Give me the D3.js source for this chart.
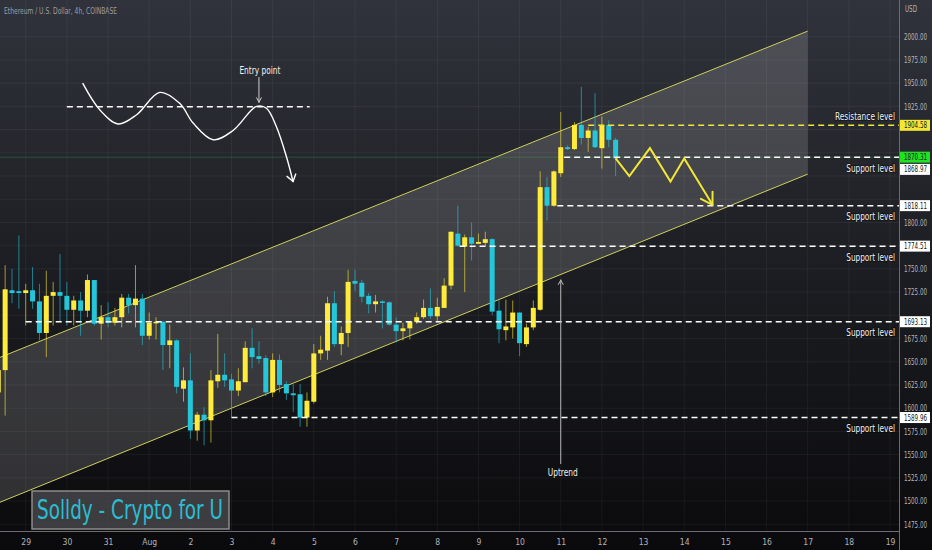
<!DOCTYPE html>
<html>
<head>
<meta charset="utf-8">
<script src="https://cdn.jsdelivr.net/npm/d3@7/dist/d3.min.js"></script>
<style>
  html, body { margin: 0; padding: 0; background: #131417; }
  svg { display: block; }
  text { font-family: "Liberation Sans Narrow", "DejaVu Sans Condensed", "Roboto", sans-serif; font-stretch: condensed; }
</style>
</head>
<body>
<svg id="chart" width="932" height="550"></svg>
<script>
// ETH / USD, 4h candles, first one opens Jul 28 2022 08:00 UTC
const HOUR = 3600 * 1000;
const firstCandle = Date.UTC(2022, 6, 28, 8);
const day0 = Date.UTC(2022, 6, 29);

const opens = [1617, 1641, 1727, 1726, 1724, 1727, 1715, 1681, 1721, 1725, 1721, 1706, 1716, 1705, 1738, 1691,
  1698, 1692, 1698, 1719, 1711, 1718, 1678, 1692, 1693, 1668, 1673, 1621, 1630, 1576, 1593, 1587, 1629, 1636,
  1631, 1619, 1628, 1665, 1656, 1654, 1617, 1652, 1626, 1616, 1615, 1590, 1607, 1659, 1662, 1713, 1669, 1681,
  1737, 1735, 1721, 1712, 1715, 1714, 1690, 1683, 1686, 1693, 1698, 1708, 1699, 1708, 1732, 1788, 1774, 1784,
  1777, 1778, 1782, 1705, 1684, 1687, 1703, 1669, 1687, 1706, 1838, 1818, 1853, 1881, 1879, 1905, 1891, 1899,
  1880, 1905, 1889];
const highs = [1648, 1754, 1750, 1786, 1734, 1752, 1734, 1748, 1736, 1766, 1736, 1721, 1725, 1744, 1738, 1711,
  1714, 1708, 1723, 1723, 1754, 1723, 1703, 1698, 1694, 1690, 1674, 1644, 1659, 1596, 1601, 1641, 1680, 1659,
  1637, 1643, 1672, 1686, 1672, 1657, 1659, 1658, 1629, 1626, 1626, 1617, 1669, 1678, 1720, 1726, 1688, 1749,
  1749, 1738, 1724, 1722, 1716, 1715, 1698, 1692, 1694, 1703, 1717, 1729, 1719, 1740, 1790, 1818, 1787, 1800,
  1788, 1790, 1783, 1716, 1717, 1716, 1703, 1691, 1716, 1855, 1849, 1856, 1919, 1883, 1908, 1946, 1903, 1939,
  1914, 1910, 1891];
const lows = [1600, 1592, 1713, 1707, 1689, 1707, 1673, 1655, 1689, 1693, 1689, 1689, 1678, 1698, 1689, 1674,
  1687, 1689, 1687, 1702, 1687, 1668, 1674, 1674, 1641, 1643, 1616, 1607, 1567, 1565, 1560, 1563, 1622, 1623,
  1590, 1613, 1628, 1643, 1648, 1613, 1612, 1617, 1609, 1596, 1580, 1580, 1605, 1652, 1652, 1666, 1657, 1666,
  1726, 1714, 1702, 1703, 1686, 1689, 1671, 1673, 1674, 1691, 1696, 1696, 1694, 1708, 1728, 1774, 1725, 1759,
  1777, 1775, 1700, 1670, 1673, 1675, 1656, 1666, 1684, 1705, 1802, 1817, 1849, 1878, 1878, 1884, 1876, 1880,
  1858, 1881, 1850];
const closes = [1641, 1728, 1724, 1724, 1727, 1715, 1681, 1721, 1725, 1721, 1706, 1716, 1705, 1738, 1691, 1698,
  1692, 1698, 1719, 1711, 1718, 1678, 1692, 1693, 1668, 1673, 1623, 1630, 1576, 1593, 1587, 1630, 1636, 1630,
  1619, 1629, 1665, 1655, 1653, 1617, 1652, 1625, 1616, 1614, 1590, 1608, 1659, 1663, 1713, 1669, 1681, 1736,
  1734, 1720, 1712, 1715, 1714, 1690, 1683, 1686, 1693, 1698, 1708, 1699, 1709, 1732, 1790, 1775, 1784, 1777,
  1779, 1782, 1704, 1685, 1688, 1703, 1670, 1687, 1708, 1838, 1818, 1855, 1881, 1879, 1905, 1891, 1899, 1881,
  1905, 1889, 1868.97];

const priceTicks = d3.range(1475, 2001, 25);

// drawn levels
const levelPrices = [1904.58, 1870.31, 1818.11, 1774.51, 1693.13, 1589.96];
const levelStarts = ["2022-08-11T16:00Z", "2022-08-11T02:00Z", "2022-08-10T22:00Z", "2022-08-08T13:00Z",
  "2022-07-29T00:00Z", "2022-08-03T00:00Z"];
const levelNames = ["Resistance level", "Support level", "Support level", "Support level", "Support level", "Support level"];
const lastPrice = 1868.97;

// channel: [time, upper, lower]
const channelTimes = ["2022-07-28T00:00Z", "2022-08-17T00:00Z"];
const channelUpper = [1648, 2006];
const channelLower = [1492, 1852];

// projected path after the last candle
const zigzagTimes = ["2022-08-12T08:00Z", "2022-08-12T16:00Z", "2022-08-13T04:00Z", "2022-08-13T16:00Z",
  "2022-08-14T00:00Z", "2022-08-14T16:30Z"];
const zigzagPrices = [1868.97, 1850, 1880, 1844, 1869, 1819];

// "Entry point" sketch, hours after Jul 29 00:00
const sketchHours = [33.2, 43.3, 53.9, 64.7, 78.2, 89.9, 97.6, 109.3, 120.9, 134.6, 140.4, 146.2, 152, 155.9];
const sketchPrices = [1950, 1921, 1906, 1916, 1940, 1928, 1907, 1889, 1899, 1925, 1923, 1903, 1871, 1844];
const entryLine = { from: 24, to: 165.6, price: 1924.5 };
const entryArrow = { hour: 136, top: 1956.5, bottom: 1929.5 };

const uptrend = { time: "2022-08-11T00:00Z", top: 1738, bottom: 1540 };

const W = 932, H = 550, plotW = 899, plotH = 531;
const upColor = "#ffeb3b", downColor = "#26c6da";
const fmt = d3.format(".2f");

const x = d3.scaleUtc()
  .domain([new Date(Date.UTC(2022, 6, 28, 9)), new Date(Date.UTC(2022, 7, 19, 5, 15))])
  .range([0, plotW]);
const y = d3.scaleLinear().domain([1475, 2000]).range([524.3, 36.7]);

const candles = opens.map((o, i) => ({
  t: new Date(firstCandle + i * 4 * HOUR), o, h: highs[i], l: lows[i], c: closes[i]
}));

const svg = d3.select("#chart");
const defs = svg.append("defs");
const grad = defs.append("linearGradient").attr("id", "bg").attr("x1", 0).attr("y1", 0).attr("x2", 0).attr("y2", 1);
grad.append("stop").attr("offset", "0%").attr("stop-color", "#30333b");
grad.append("stop").attr("offset", "50%").attr("stop-color", "#1c1d22");
grad.append("stop").attr("offset", "100%").attr("stop-color", "#0a0a0c");
defs.append("clipPath").attr("id", "plot").append("rect").attr("width", plotW).attr("height", plotH);

svg.append("rect").attr("width", W).attr("height", H).attr("fill", "url(#bg)");

const plot = svg.append("g").attr("clip-path", "url(#plot)");

// grid
const days = d3.utcDay.range(new Date(day0), new Date(Date.UTC(2022, 7, 20)));
plot.append("g").selectAll("line").data(days).join("line")
  .attr("x1", d => x(d)).attr("x2", d => x(d)).attr("y1", 0).attr("y2", plotH)
  .attr("stroke", "rgba(255,255,255,0.05)");
plot.append("g").selectAll("line").data(priceTicks).join("line")
  .attr("x1", 0).attr("x2", plotW).attr("y1", d => y(d)).attr("y2", d => y(d))
  .attr("stroke", "rgba(255,255,255,0.05)");

// channel
const ct = channelTimes.map(d => new Date(d));
plot.append("path")
  .attr("d", d3.area().x((d, i) => x(ct[i])).y0((d, i) => y(channelLower[i])).y1(d => y(d))(channelUpper))
  .attr("fill", "rgba(255,255,255,0.15)");
[channelUpper, channelLower].forEach(line => {
  plot.append("path")
    .attr("d", d3.line().x((d, i) => x(ct[i])).y(d => y(d))(line))
    .attr("fill", "none").attr("stroke", "#cfcf5c").attr("stroke-width", 1);
});

// faint last-price line
plot.append("line").attr("x1", 0).attr("x2", plotW)
  .attr("y1", y(levelPrices[1])).attr("y2", y(levelPrices[1]))
  .attr("stroke", "rgba(60,220,80,0.25)");

// candles
const cg = plot.append("g");
cg.selectAll("line").data(candles).join("line")
  .attr("x1", d => x(d.t)).attr("x2", d => x(d.t))
  .attr("y1", d => y(d.h)).attr("y2", d => y(d.l))
  .attr("stroke", d => d.c >= d.o ? upColor : downColor)
  .attr("stroke-opacity", 0.6);
cg.selectAll("rect").data(candles).join("rect")
  .attr("x", d => x(d.t) - 2.5).attr("width", 5)
  .attr("y", d => y(Math.max(d.o, d.c)))
  .attr("height", d => Math.max(1.5, Math.abs(y(d.o) - y(d.c))))
  .attr("fill", d => d.c >= d.o ? upColor : downColor);

// levels
const levels = levelPrices.map((p, i) => ({ p, start: new Date(levelStarts[i]), name: levelNames[i], i }));
plot.append("g").selectAll("line").data(levels).join("line")
  .attr("x1", d => x(d.start)).attr("x2", plotW)
  .attr("y1", d => y(d.p)).attr("y2", d => y(d.p))
  .attr("stroke", d => d.i === 0 ? "#f2e636" : "#ffffff")
  .attr("stroke-width", 1.5).attr("stroke-dasharray", "6,4");
plot.append("g").selectAll("text").data(levels).join("text")
  .attr("x", plotW - 4)
  .attr("y", d => y(d.p) + (d.i === 0 ? -5.5 : 14.5))
  .attr("text-anchor", "end").attr("fill", "#f0f0f0").attr("font-size", 11)
  .attr("textLength", d => d.name.length * 3.75).attr("lengthAdjust", "spacingAndGlyphs")
  .style("paint-order", "stroke").attr("stroke", "rgba(0,0,0,0.4)").attr("stroke-width", 2)
  .text(d => d.name);

// zigzag projection
const zz = zigzagTimes.map((t, i) => [x(new Date(t)), y(zigzagPrices[i])]);
plot.append("path").attr("d", d3.line()(zz))
  .attr("fill", "none").attr("stroke", "#f2e636").attr("stroke-width", 2).attr("stroke-linejoin", "miter");

function arrowHead(g, tip, prev, len, spread, color, width) {
  const ang = Math.atan2(prev[1] - tip[1], prev[0] - tip[0]);
  [-spread, spread].forEach(s => {
    g.append("line")
      .attr("x1", tip[0]).attr("y1", tip[1])
      .attr("x2", tip[0] + len * Math.cos(ang + s)).attr("y2", tip[1] + len * Math.sin(ang + s))
      .attr("stroke", color).attr("stroke-width", width).attr("stroke-linecap", "round");
  });
}
arrowHead(plot, zz[zz.length - 1], zz[zz.length - 2], 13, 0.55, "#f2e636", 2);

// entry point sketch
const sk = sketchHours.map((h, i) => [x(new Date(day0 + h * HOUR)), y(sketchPrices[i])]);
plot.append("path").attr("d", d3.line().curve(d3.curveCatmullRom)(sk))
  .attr("fill", "none").attr("stroke", "#ffffff").attr("stroke-width", 1.4);
arrowHead(plot, sk[sk.length - 1], sk[sk.length - 2], 8, 0.6, "#ffffff", 1.4);

plot.append("line")
  .attr("x1", x(new Date(day0 + entryLine.from * HOUR))).attr("x2", x(new Date(day0 + entryLine.to * HOUR)))
  .attr("y1", y(entryLine.price)).attr("y2", y(entryLine.price))
  .attr("stroke", "#ffffff").attr("stroke-width", 1.5).attr("stroke-dasharray", "6,4");

const ex = x(new Date(day0 + entryArrow.hour * HOUR));
plot.append("line").attr("x1", ex).attr("x2", ex)
  .attr("y1", y(entryArrow.top)).attr("y2", y(entryArrow.bottom))
  .attr("stroke", "#cfcfcf").attr("stroke-width", 1);
arrowHead(plot, [ex, y(entryArrow.bottom)], [ex, y(entryArrow.top)], 5, 0.5, "#cfcfcf", 1);
plot.append("text").attr("x", ex + 1).attr("y", y(entryArrow.top) - 3)
  .attr("text-anchor", "middle").attr("fill", "#f0f0f0").attr("font-size", 11)
  .attr("textLength", 41).attr("lengthAdjust", "spacingAndGlyphs")
  .text("Entry point");

// uptrend marker
const ux = x(new Date(uptrend.time));
plot.append("line").attr("x1", ux).attr("x2", ux)
  .attr("y1", y(uptrend.top)).attr("y2", y(uptrend.bottom))
  .attr("stroke", "#b8b8b8").attr("stroke-width", 1);
arrowHead(plot, [ux, y(uptrend.top)], [ux, y(uptrend.bottom)], 5, 0.5, "#b8b8b8", 1);
plot.append("text").attr("x", ux + 2).attr("y", y(uptrend.bottom) + 12)
  .attr("text-anchor", "middle").attr("fill", "#f0f0f0").attr("font-size", 11)
  .attr("textLength", 30).attr("lengthAdjust", "spacingAndGlyphs")
  .text("Uptrend");

// axes
svg.append("line").attr("x1", plotW + 0.5).attr("x2", plotW + 0.5).attr("y1", 0).attr("y2", H)
  .attr("stroke", "#6a6c72");
svg.append("line").attr("x1", 0).attr("x2", plotW).attr("y1", plotH + 0.5).attr("y2", plotH + 0.5)
  .attr("stroke", "#6a6c72");

// price tags on the axis
const tags = [
  { p: levelPrices[0], fill: "#f2e636", dy: 0 },
  { p: levelPrices[1], fill: "#22e022", dy: 0 },
  { p: lastPrice, fill: "#ffffff", dy: 11 },
  { p: levelPrices[2], fill: "#ffffff", dy: 0 },
  { p: levelPrices[3], fill: "#ffffff", dy: 0 },
  { p: levelPrices[4], fill: "#ffffff", dy: 0 },
  { p: levelPrices[5], fill: "#ffffff", dy: 0 }
];
const tagY = tags.map(d => y(d.p) + d.dy);

// tick labels hidden where a tag covers them
const visibleTicks = priceTicks.filter(v => tagY.every(t => Math.abs(t - y(v)) > 8));
const yAxis = svg.append("g").attr("transform", `translate(${plotW},0)`)
  .call(d3.axisRight(y).tickValues(visibleTicks).tickFormat(fmt).tickSize(0));
yAxis.select(".domain").remove();
yAxis.selectAll("text").attr("fill", "#b2b4ba").attr("font-size", 8.5)
  .attr("x", 28).attr("text-anchor", "end")
  .attr("textLength", 23).attr("lengthAdjust", "spacingAndGlyphs")
  .style("font-family", "'Liberation Sans Narrow', 'DejaVu Sans Condensed', sans-serif");

const xAxis = svg.append("g").attr("transform", `translate(0,${plotH})`)
  .call(d3.axisBottom(x).tickValues(days.filter(d => x(d) < plotW - 4))
    .tickFormat(d => d.getUTCDate() === 1 ? d3.utcFormat("%b")(d) : d.getUTCDate())
    .tickSize(0).tickPadding(8));
xAxis.select(".domain").remove();
xAxis.selectAll("text").attr("fill", "#b2b4ba").attr("font-size", 8.5)
  .style("font-family", "'Liberation Sans Narrow', 'DejaVu Sans Condensed', sans-serif");

svg.append("text").attr("x", plotW + 6).attr("y", 12).attr("fill", "#b2b4ba").attr("font-size", 8.5)
  .attr("textLength", 12).attr("lengthAdjust", "spacingAndGlyphs").text("USD");
svg.append("text").attr("x", 4).attr("y", 14).attr("fill", "#9a9ca3").attr("font-size", 9)
  .attr("textLength", 113).attr("lengthAdjust", "spacingAndGlyphs")
  .text("Ethereum / U.S. Dollar, 4h, COINBASE");

const tg = svg.append("g").selectAll("g").data(tags).join("g")
  .attr("transform", (d, i) => `translate(${plotW + 1},${tagY[i]})`);
tg.append("rect").attr("x", 0).attr("y", -5.5).attr("width", 30).attr("height", 11).attr("fill", d => d.fill);
tg.append("text").attr("x", 27).attr("y", 3).attr("text-anchor", "end")
  .attr("fill", "#131722").attr("font-size", 8.5)
  .attr("textLength", 23).attr("lengthAdjust", "spacingAndGlyphs")
  .text(d => fmt(d.p));

// watermark
const wm = svg.append("g").attr("transform", "translate(32,491)");
wm.append("rect").attr("width", 197).attr("height", 38)
  .attr("fill", "rgba(78,78,82,0.75)").attr("stroke", "#8c8c8c").attr("stroke-width", 1.5);
wm.append("text").attr("x", 5).attr("y", 28).attr("fill", "#2bbdd3").attr("font-size", 27)
  .attr("textLength", 186).attr("lengthAdjust", "spacingAndGlyphs")
  .text("Solldy - Crypto for U");
</script>
</body>
</html>
